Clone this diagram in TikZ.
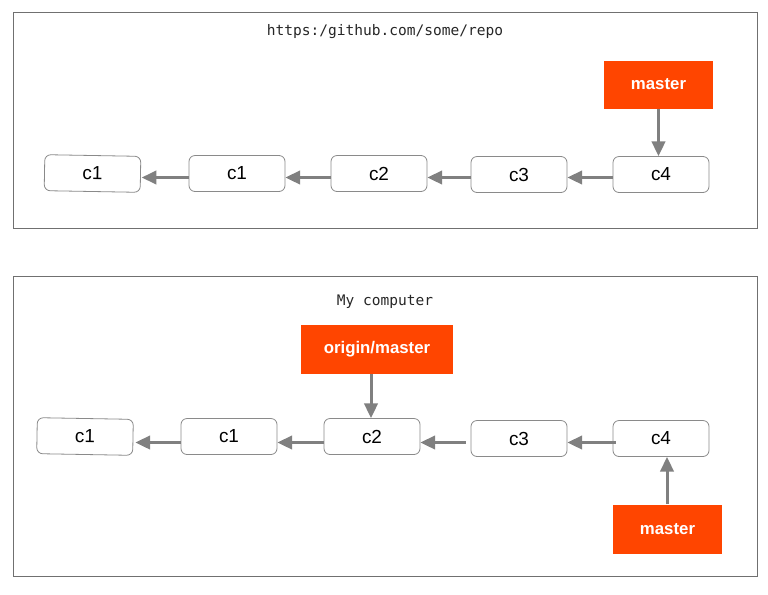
\documentclass[tikz,border=0pt]{standalone}
\usepackage{fontspec}
\setmainfont{Liberation Sans}
\newfontfamily\monofont{DejaVu Sans Mono}
\usetikzlibrary{arrows.meta}

\definecolor{branchred}{HTML}{FF4500}
\definecolor{linkgray}{HTML}{808080}
\definecolor{boxgray}{HTML}{8A8A8A}
\definecolor{framegray}{HTML}{707070}

\tikzset{
  frame/.style={draw=framegray, line width=0.75pt},
  caption/.style={font=\monofont\fontsize{10.9pt}{12pt}\selectfont, text=black!85},
  commit/.style={draw=boxgray, line width=0.6pt, rounded corners=4.5pt, fill=white,
    minimum width=72pt, minimum height=27pt, inner sep=0pt,
    font=\fontsize{14.2pt}{16pt}\selectfont},
  branch/.style={fill=branchred, text=white, inner sep=0pt,
    minimum height=36pt, font=\bfseries\fontsize{12.6pt}{14pt}\selectfont},
  link/.style={draw=linkgray, line width=2.25pt,
    -{Triangle[length=11pt,width=10pt]}, shorten >=0pt},
}

\begin{document}
\begin{tikzpicture}[x=0.75pt, y=-0.75pt]
  \useasboundingbox (0,0) rectangle (768,594);

  % remote repository
  \draw[frame] (13,12) rectangle (757,228);
  \node[caption] (remote) at (385,32) {https:/github.com/some/repo};

  \node[commit, rotate=-1] (ra) at (92.5,173.5) {c1};
  \node[commit] (rb) at (237,173.5) {c1};
  \node[commit] (rc) at (379,173.5) {c2};
  \node[commit] (rd) at (519,174.5) {c3};
  \node[commit] (re) at (661,174.5) {c4};
  \node[branch, minimum width=81.75pt] (rmaster) at (658.5,84.5) {master};

  \draw[link] (rmaster.south) -- (re.north -| rmaster.south);
  \draw[link] ([yshift=-2.25pt]re.west) -- ([yshift=-2.25pt]rd.east);
  \draw[link] ([yshift=-2.25pt]rd.west) -- ([yshift=-2.25pt]rc.east |- rd.west);
  \draw[link] ([yshift=-2.25pt]rc.west |- rd.west) -- ([yshift=-2.25pt]rb.east |- rd.west);
  \draw[link] ([yshift=-2.25pt]rb.west |- rd.west) -- ([xshift=0.6pt,yshift=-2.25pt]ra.east |- rd.west);

  % local clone
  \draw[frame] (13,276) rectangle (757,576);
  \node[caption] (local) at (385,302) {My computer};

  \node[commit, rotate=-1] (la) at (85,436.5) {c1};
  \node[commit] (lb) at (229,436.5) {c1};
  \node[commit] (lc) at (372,436.5) {c2};
  \node[commit] (ld) at (519,438.5) {c3};
  \node[commit] (le) at (661,438.5) {c4};
  \node[branch, minimum width=114pt, minimum height=36.75pt] (origin) at (377,349) {origin/master};
  \node[branch, minimum width=81.75pt, minimum height=36.75pt] (lmaster) at (667.5,529) {master};

  \draw[link] (origin.south -| 371,0) -- (lc.north -| 371,0);
  \draw[link] (lmaster.north -| 667,0) -- (le.south -| 667,0);
  \draw[link] ([xshift=2.25pt,yshift=-3pt]le.west) -- ([yshift=-3pt]ld.east);
  \draw[link] ([xshift=-3.75pt,yshift=-3pt]ld.west) -- ([yshift=-3pt]lc.east |- ld.west);
  \draw[link] ([yshift=-3pt]lc.west |- ld.west) -- ([yshift=-3pt]lb.east |- ld.west);
  \draw[link] ([yshift=-3pt]lb.west |- ld.west) -- ([xshift=1.5pt,yshift=-3pt]la.east |- ld.west);
\end{tikzpicture}
\end{document}
